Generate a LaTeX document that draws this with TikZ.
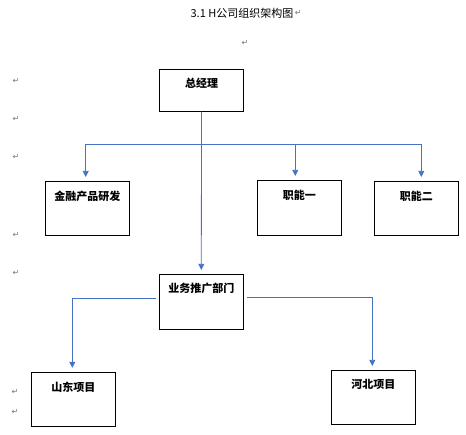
\documentclass[tikz,border=0pt]{standalone}
\usepackage{fontspec}
\setmainfont{Noto Sans CJK SC}
\newfontfamily\symfont{DejaVu Sans}
\usetikzlibrary{positioning,arrows.meta}
\definecolor{linkblue}{HTML}{4472C4}

\begin{document}
\begin{tikzpicture}
[
x=1pt, y=-1pt,
box-a/.style={rectangle, draw, line width=0.8pt, minimum width=84pt, minimum height=54pt, inner sep=0pt},
text-a/.style={black, font=\bfseries\fontsize{11}{11}\selectfont, inner sep=0pt},
line-a/.style={draw=linkblue, line width=0.8pt},
link-a/.style={line-a, -{Triangle[length=6pt,width=6pt]}, shorten >=4pt},
mark-a/.style={black!55, font=\symfont\fontsize{8}{8}\selectfont, inner sep=0pt}
]
\useasboundingbox (0,0) rectangle (466,434);
\node (title)     [font=\fontsize{11}{11}\selectfont, inner sep=0pt] at (242,13) {3.1 H公司组织架构图};
\node (title-pm)  [mark-a, right = 1pt of title]     {↵};
\node (gm)        [box-a, minimum height=42pt] at (201.5,90.3) {};
\node (gm-lb)     [text-a, below = 9pt of gm.north]     {总经理};
\node (rd)        [box-a]                      at (87.3,208.3)  {};
\node (rd-lb)     [text-a, below = 9.5pt of rd.north]   {金融产品研发};
\node (f1)        [box-a, minimum height=55pt] at (299.3,207.8) {};
\node (f1-lb)     [text-a, below = 10pt of f1.north]   {职能一};
\node (f2)        [box-a]                      at (416.3,208.3) {};
\node (f2-lb)     [text-a, below = 9.5pt of f2.north]   {职能二};
\node (sales)     [box-a, minimum height=55pt] at (201.3,301.8) {};
\node (sales-lb)  [text-a, below = 8.5pt of sales.north] {业务推广部门};
\node (sd)        [box-a]                      at (73.3,399.2)  {};
\node (sd-lb)     [text-a, below = 10pt of sd.north]   {山东项目};
\node (hb)        [box-a]                      at (373.3,397.3) {};
\node (hb-lb)     [text-a, below = 9.5pt of hb.north]   {河北项目};
% paragraph marks
\foreach \n/\p in {1/{(245,43)}, 2/{(16,81)}, 3/{(16,119)}, 4/{(16,157)}, 5/{(16,235)}, 6/{(16,273)}, 7/{(15,392)}, 8/{(15,412)}}
  \node (pm-\n) [mark-a] at \p {↵};
% connectors
\coordinate (bus-1) at (85.7,144.3);
\coordinate (bus-2) at (295.3,144.3);
\coordinate (bus-3) at (421.3,144.3);
\draw[line-a] (bus-1) -- (bus-3);
\draw[link-a] (gm.south) -- (sales.north);
\draw[link-a] (bus-1) -- (bus-1 |- rd.north);
\draw[link-a] (bus-2) -- (bus-2 |- f1.north);
\draw[link-a] (bus-3) -- (bus-3 |- f2.north);
\draw[link-a] ([shift={(-2.5pt,3pt)}]sales.west) -| ([xshift=-1pt]sd.north);
\draw[link-a] ([shift={(3.5pt,4pt)}]sales.east) -| ([xshift=-1pt]hb.north);
\end{tikzpicture}
\end{document}
